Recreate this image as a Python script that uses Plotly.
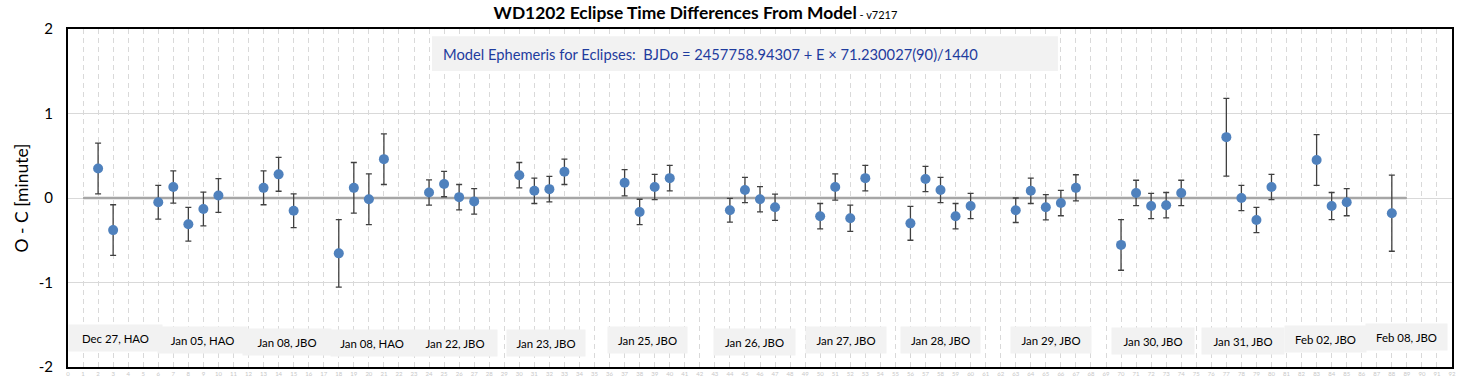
import plotly.graph_objects as go

# ---- data ----
cycle = [2, 3, 6, 7, 8, 9, 10, 13, 14, 15, 18, 19, 20, 21, 24, 25, 26, 27,
         30, 31, 32, 33, 37, 38, 39, 40, 44, 45, 46, 47, 50, 51, 52, 53,
         56, 57, 58, 59, 60, 63, 64, 65, 66, 67, 70, 71, 72, 73, 74,
         77, 78, 79, 80, 83, 84, 85, 88]
o_minus_c = [0.35, -0.38, -0.05, 0.13, -0.31, -0.13, 0.03, 0.12, 0.28, -0.15,
             -0.655, 0.12, -0.015, 0.46, 0.065, 0.165, 0.01, -0.04,
             0.27, 0.085, 0.105, 0.31, 0.18, -0.165, 0.13, 0.235,
             -0.145, 0.095, -0.015, -0.11, -0.215, 0.13, -0.24, 0.235,
             -0.30, 0.225, 0.095, -0.215, -0.095, -0.145, 0.085, -0.11, -0.06, 0.12,
             -0.555, 0.06, -0.095, -0.085, 0.06, 0.72, 0.0, -0.26, 0.13,
             0.45, -0.095, -0.05, -0.18]
err = [0.30, 0.30, 0.20, 0.19, 0.20, 0.20, 0.20, 0.20, 0.20, 0.20,
       0.40, 0.30, 0.30, 0.30, 0.15, 0.15, 0.15, 0.15,
       0.15, 0.15, 0.15, 0.15, 0.155, 0.15, 0.15, 0.15,
       0.14, 0.15, 0.15, 0.155, 0.15, 0.155, 0.155, 0.15,
       0.20, 0.15, 0.15, 0.15, 0.15, 0.145, 0.15, 0.15, 0.15, 0.155,
       0.30, 0.15, 0.15, 0.15, 0.15, 0.46, 0.15, 0.15, 0.15,
       0.30, 0.16, 0.16, 0.45]

session_labels = ["Dec 27, HAO", "Jan 05, HAO", "Jan 08, JBO", "Jan 08, HAO", "Jan 22, JBO",
                  "Jan 23, JBO", "Jan 25, JBO", "Jan 26, JBO", "Jan 27, JBO", "Jan 28, JBO",
                  "Jan 29, JBO", "Jan 30, JBO", "Jan 31, JBO", "Feb 02, JBO", "Feb 08, JBO"]
label_x = [3.16, 8.94, 14.56, 20.21, 25.73, 31.78, 38.53, 45.64, 51.73, 58.01,
           65.36, 72.14, 78.12, 83.61, 88.99]
label_y = [-1.66, -1.68, -1.70, -1.72, -1.71, -1.71, -1.68, -1.70, -1.68, -1.68,
           -1.68, -1.69, -1.69, -1.67, -1.65]
label_w = [93, 89, 88, 82, 84, 78, 79, 81, 80, 79, 80, 82, 82, 81, 81]

ephemeris_text = "Model Ephemeris for Eclipses:  BJDo = 2457758.94307 + E × 71.230027(90)/1440"
ephem_box_x = [24.2, 65.8]
ephem_box_y = [1.503, 1.914]

zero_line_x = [1, 89]
zero_line_y = [0, 0]

x_ticks = list(range(0, 93))
y_ticks = [-2, -1, 0, 1, 2]
y_tick_text = ["-2", "-1", "0", "1", "2"]

FONT = "Lato"

fig = go.Figure()
fig.add_trace(go.Scatter(x=zero_line_x, y=zero_line_y, mode="lines",
                         line=dict(color="#a6a6a6", width=2.5), hoverinfo="skip",
                         showlegend=False))
fig.add_trace(go.Scatter(
    x=cycle, y=o_minus_c, mode="markers",
    marker=dict(color="#4f81bd", size=10),
    error_y=dict(type="data", array=err, visible=True, color="#404040",
                 thickness=1.3, width=3),
    showlegend=False))

annotations = []
for t, lx, ly, w in zip(session_labels, label_x, label_y, label_w):
    annotations.append(dict(x=lx, y=ly, xref="x", yref="y", text=t, showarrow=False,
                            font=dict(family=FONT, size=11.4, color="#000000"),
                            bgcolor="#f2f2f2", width=w - 4, height=22, borderpad=2,
                            xanchor="center", yanchor="middle"))

annotations.append(dict(
    x=ephem_box_x[0] + 9 / 15.04, y=sum(ephem_box_y) / 2, xref="x", yref="y",
    xanchor="left", yanchor="middle",
    text=ephemeris_text, showarrow=False,
    font=dict(family=FONT, size=14.7, color="#1f3c9e")))

shapes = [dict(type="rect", xref="x", yref="y", x0=ephem_box_x[0], x1=ephem_box_x[1],
               y0=ephem_box_y[0], y1=ephem_box_y[1], fillcolor="#f2f2f2",
               line=dict(width=0), layer="above")]

fig.update_layout(
    width=1466, height=379,
    paper_bgcolor="white", plot_bgcolor="white",
    margin=dict(l=68, r=14, t=29, b=12, autoexpand=False),
    title=dict(text="<b>WD1202 Eclipse Time Differences From Model</b>"
                    "<span style='font-size:11px'> - v7217</span>",
               x=695.5 / 1466, xref="container", xanchor="center",
               y=1 - 13 / 379, yref="container", yanchor="middle",
               font=dict(family=FONT, size=17.4, color="#000000")),
    annotations=annotations,
    shapes=shapes,
    xaxis=dict(range=[0, 92], tickmode="array", tickvals=x_ticks,
               tickfont=dict(family=FONT, size=6, color="#c8c8c8"),
               showgrid=True, gridcolor="#d9d9d9", griddash="5px,4px", gridwidth=1,
               showline=True, linecolor="#000000", linewidth=2, mirror=True,
               zeroline=False, ticks="", automargin=False),
    yaxis=dict(range=[-2, 2], tickmode="array", tickvals=y_ticks, ticktext=y_tick_text,
               tickfont=dict(family=FONT, size=15, color="#000000"),
               ticklabelstandoff=10,
               showgrid=True, gridcolor="#d9d9d9", gridwidth=1,
               showline=True, linecolor="#000000", linewidth=2, mirror=True,
               zeroline=False, ticks="", automargin=False,
               title=dict(text="O - C [minute]", standoff=6,
                          font=dict(family=FONT, size=17.5, color="#000000"))),
)

fig.write_html("out.html", post_script="document.body.style.margin='0';",
               config={"displayModeBar": False})
